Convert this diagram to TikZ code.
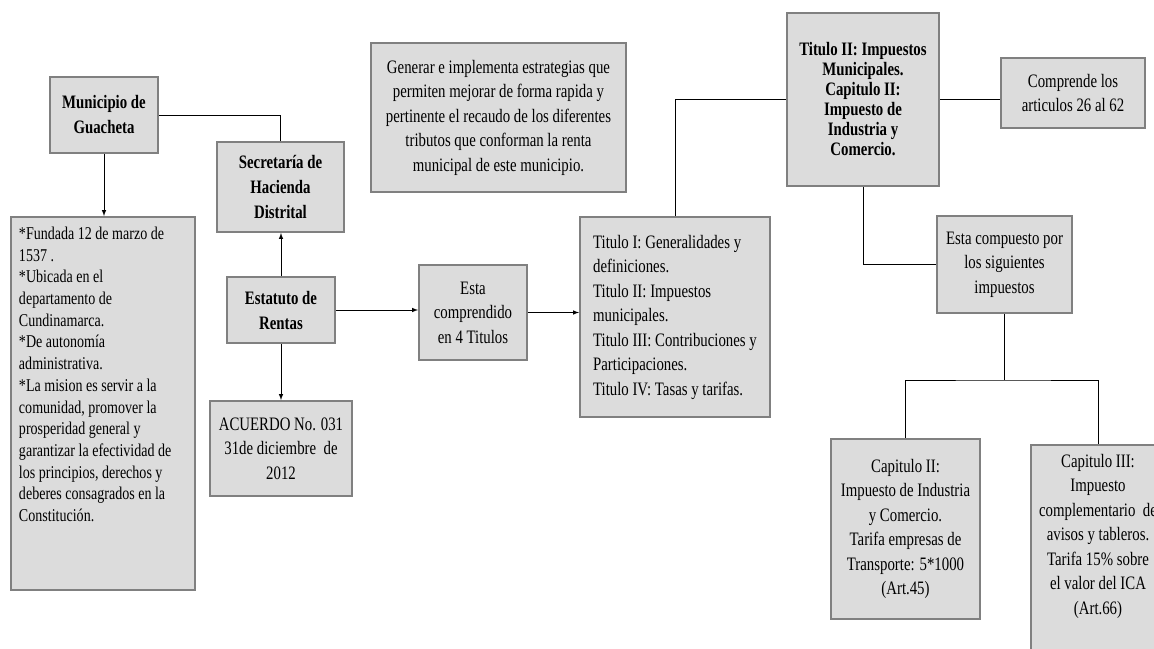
\documentclass[tikz,border=0pt]{standalone}
\usepackage{fontspec}
\setmainfont{Liberation Serif}[FakeStretch=0.78]
\usetikzlibrary{scopes}
\definecolor{cajagris}{HTML}{DCDCDC}
\definecolor{bordegris}{HTML}{808080}

\begin{document}
\begin{tikzpicture}[
    x=1pt, y=-1pt,
    >=latex,
    caja/.style={rectangle,draw=bordegris,fill=cajagris,line width=2pt,align=center,inner sep=0pt,font=\fontsize{19}{24.5}\selectfont},
    titulo/.style={caja,font=\fontsize{19}{25}\selectfont\bfseries},
    conector/.style={draw=black,line width=1pt},
]
    \useasboundingbox (0,0) rectangle (1154,648);
    \clip (0,0) rectangle (1154,648);

    %%%
    % Municipio y estatuto
    \node[titulo,minimum width=108pt,minimum height=76pt] (mun) at (104,115) {Municipio de\\Guacheta};
    \node[titulo,minimum width=127pt,minimum height=90pt] (sec) at (280.5,187) {Secretaría de\\Hacienda\\Distrital};
    \node[titulo,minimum width=108pt,minimum height=66pt] (est) at (281,310) {Estatuto de\\Rentas};
    \node[caja,minimum width=142pt,minimum height=95pt] (acu) at (281,448.5) {ACUERDO No. 031\\31de diciembre\ \ de\\2012};
    \node[caja,anchor=north,inner xsep=8pt,inner ysep=10pt] (info) at (103,216) {%
        \begin{minipage}[t][353pt][t]{168pt}\fontsize{18}{21.7}\selectfont\raggedright
        *Fundada 12 de marzo de\\1537 .\\{}*Ubicada en el\\departamento de\\Cundinamarca.\\{}*De autonomía\\administrativa.\\{}*La mision es servir a la\\comunidad, promover la\\prosperidad general y\\garantizar la efectividad de\\los principios, derechos y\\deberes consagrados en la\\Constitución.
        \end{minipage}};

    %%%
    % Objetivo y titulos
    \node[caja,minimum width=255pt,minimum height=149pt] (gen) at (498.5,117.5) {Generar e implementa estrategias que\\permiten mejorar de forma rapida y\\pertinente el recaudo de los diferentes\\tributos que conforman la renta\\municipal de este municipio.};
    \node[caja,minimum width=108pt,minimum height=95pt] (comp) at (473,312.5) {Esta\\comprendido\\en 4 Titulos};
    \node[caja,align=left,minimum width=190pt,minimum height=200pt] (tit) at (675,317) {Titulo I: Generalidades y\\definiciones.\\Titulo II: Impuestos\\municipales.\\Titulo III: Contribuciones y\\Participaciones.\\Titulo IV: Tasas y tarifas.};

    %%%
    % Titulo II y sus impuestos
    \node[titulo,font=\fontsize{19}{20}\selectfont\bfseries,minimum width=152pt,minimum height=173pt] (tii) at (863,99.5) {Titulo II: Impuestos\\Municipales.\\Capitulo II:\\Impuesto de\\Industria y\\Comercio.};
    \node[caja,minimum width=144pt,minimum height=70pt] (com) at (1073,93) {Comprende los\\articulos 26 al 62};
    \node[caja,minimum width=135pt,minimum height=97pt] (cmp) at (1004.5,264.5) {Esta compuesto por\\los siguientes\\impuestos};
    \node[caja,minimum width=149pt,minimum height=180pt] (c2) at (905.5,529) {Capitulo II:\\Impuesto de Industria\\y Comercio.\\Tarifa empresas de\\Transporte: 5*1000\\(Art.45)};
    \node[caja,anchor=north,inner xsep=10pt,inner ysep=9pt] (c3) at (1098,444) {%
        \begin{minipage}[t][240pt][t]{114pt}\centering
        Capitulo III:\\Impuesto\\\makebox[0pt]{complementario\ \ de}\\avisos y tableros.\\Tarifa 15\% sobre\\el valor del ICA\\(Art.66)
        \end{minipage}};

    %%%
    % Conectores
    {[conector]
        \draw (mun.east) -| (sec.north);
        \draw (tit.north) |- (tii.west);
        \draw (tii.east) -- (tii.east -| com.west);
        \draw (tii.south) |- (cmp.west);
        \draw (cmp.south) -- ++(0,66) coordinate (bif);
        \draw (c2.north) |- (bif) -| (c3.north);
    }
    {[conector,->]
        \draw (mun.south) -- (mun.south |- info.north);
        \draw (est.north) -- (est.north |- sec.south);
        \draw (est.south) -- (est.south |- acu.north);
        \draw (est.east) -- (est.east -| comp.west);
        \draw (comp.east) -- (comp.east -| tit.west);
    }

\end{tikzpicture}
\end{document}
